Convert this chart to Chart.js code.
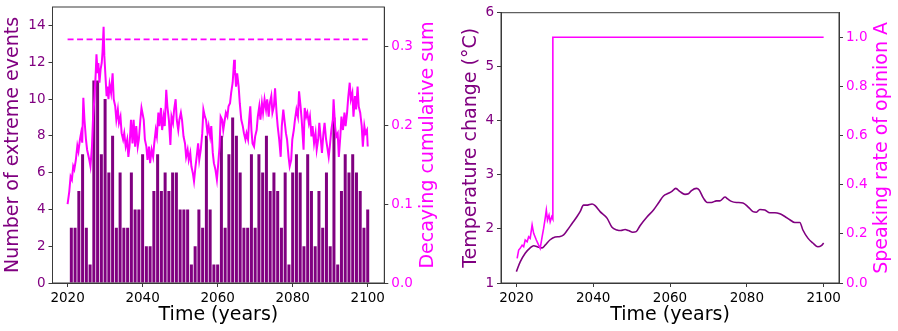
<!DOCTYPE html>
<html>
<head>
<meta charset="utf-8">
<script src="https://cdn.jsdelivr.net/npm/chart.js@4.4.1/dist/chart.umd.min.js"></script>
<style>
  body { margin: 0; background: #fff; }
  canvas { position: absolute; top: 0; }
</style>
</head>
<body>
<canvas id="events" width="449" height="331" style="left:0"></canvas>
<canvas id="temp" width="449" height="331" style="left:449px"></canvas>
<script>
// yearly counts of extreme events, 2021..2100
const years = Array.from({ length: 80 }, (_, i) => 2021 + i);
const extremeEvents = [
  3, 3, 5, 7, 3, 1, 11, 11, 7, 10, 6, 8, 3, 6, 3, 3, 6, 4, 4, 7,
  2, 2, 5, 7, 5, 6, 5, 6, 6, 4, 4, 4, 1, 2, 4, 3, 8, 4, 1, 1,
  8, 3, 7, 9, 8, 6, 3, 3, 7, 3, 7, 6, 8, 5, 6, 5, 3, 6, 1, 6,
  7, 6, 2, 7, 5, 2, 5, 3, 6, 2, 9, 1, 5, 7, 6, 7, 6, 5, 3, 4,
];

// decaying cumulative sum
const sumYears = [
  2020.0, 2020.45, 2020.8, 2021.15, 2021.5, 2021.8, 2022.2, 2022.6, 2022.9, 2023.3,
  2023.6, 2023.9, 2024.2, 2024.5, 2024.9, 2025.2, 2025.8, 2026.1, 2026.5, 2026.8,
  2027.2, 2027.5, 2027.7, 2028.0, 2028.2, 2028.5, 2028.8, 2029.1, 2029.3, 2029.6,
  2029.8, 2030.1, 2030.4, 2030.6, 2030.9, 2031.2, 2031.6, 2032.0, 2032.3, 2032.7,
  2033.0, 2033.4, 2033.7, 2034.1, 2034.4, 2034.8, 2035.1, 2035.5, 2035.9, 2036.2,
  2036.5, 2036.9, 2037.3, 2037.6, 2038.0, 2038.3, 2038.7, 2039.0, 2039.4, 2039.7,
  2040.3, 2040.6, 2041.0, 2041.3, 2041.7, 2042.0, 2042.4, 2042.8, 2043.1, 2043.5,
  2043.8, 2044.2, 2044.5, 2044.9, 2045.2, 2045.6, 2045.9, 2046.3, 2046.6, 2047.0,
  2047.4, 2047.7, 2048.1, 2048.4, 2048.8, 2049.1, 2049.5, 2049.8, 2050.2, 2050.5,
  2050.9, 2051.3, 2051.6, 2052.0, 2052.3, 2052.7, 2053.0, 2053.4, 2053.7, 2054.1,
  2054.4, 2054.8, 2055.1, 2055.5, 2055.9, 2056.2, 2056.6, 2056.9, 2057.3, 2057.6,
  2058.0, 2058.3, 2058.7, 2059.0, 2059.4, 2059.8, 2060.1, 2060.5, 2060.8, 2061.2,
  2061.5, 2061.9, 2062.2, 2062.6, 2062.9, 2063.3, 2063.6, 2064.0, 2064.4, 2064.6,
  2064.9, 2065.2, 2065.6, 2065.9, 2066.3, 2066.7, 2067.0, 2067.4, 2067.7, 2068.1,
  2068.4, 2068.7, 2069.0, 2069.3, 2069.7, 2070.0, 2070.4, 2070.7, 2071.1, 2071.4,
  2071.8, 2072.1, 2072.5, 2072.9, 2073.2, 2073.6, 2073.9, 2074.3, 2074.6, 2075.0,
  2075.3, 2075.7, 2076.0, 2076.4, 2076.8, 2077.1, 2077.5, 2077.8, 2078.2, 2078.5,
  2078.9, 2079.2, 2079.6, 2079.9, 2080.3, 2080.6, 2081.0, 2081.4, 2081.7, 2082.1,
  2082.4, 2082.9, 2083.2, 2083.6, 2083.9, 2084.3, 2084.6, 2085.0, 2085.3, 2085.7,
  2086.1, 2086.4, 2086.8, 2087.1, 2087.5, 2087.8, 2088.2, 2088.5, 2088.9, 2089.2,
  2089.6, 2089.9, 2090.3, 2090.7, 2090.9, 2091.3, 2091.6, 2092.0, 2092.3, 2092.7,
  2093.0, 2093.4, 2093.8, 2094.1, 2094.5, 2094.8, 2095.2, 2095.5, 2095.9, 2096.2,
  2096.6, 2096.9, 2097.3, 2097.6, 2098.0, 2098.4, 2098.7, 2099.1, 2099.4, 2099.8,
  2100.0,
];
const sumValues = [
  0.100, 0.116, 0.135, 0.131, 0.148, 0.144, 0.156, 0.174, 0.167, 0.182,
  0.190, 0.178, 0.235, 0.207, 0.182, 0.169, 0.156, 0.148, 0.173, 0.211,
  0.237, 0.266, 0.290, 0.266, 0.279, 0.254, 0.271, 0.279, 0.292, 0.325,
  0.288, 0.262, 0.237, 0.249, 0.233, 0.252, 0.241, 0.266, 0.233, 0.224,
  0.207, 0.220, 0.203, 0.211, 0.190, 0.182, 0.190, 0.173, 0.182, 0.160,
  0.173, 0.207, 0.177, 0.207, 0.173, 0.199, 0.173, 0.182, 0.207, 0.222,
  0.207, 0.182, 0.173, 0.156, 0.173, 0.152, 0.169, 0.160, 0.177, 0.194,
  0.186, 0.216, 0.199, 0.222, 0.194, 0.211, 0.199, 0.245, 0.224, 0.207,
  0.175, 0.211, 0.203, 0.220, 0.233, 0.207, 0.194, 0.207, 0.216, 0.207,
  0.186, 0.177, 0.160, 0.169, 0.156, 0.165, 0.148, 0.139, 0.129, 0.148,
  0.160, 0.177, 0.156, 0.169, 0.190, 0.220, 0.211, 0.207, 0.190, 0.199,
  0.186, 0.199, 0.165, 0.152, 0.144, 0.131, 0.148, 0.173, 0.211, 0.207,
  0.194, 0.207, 0.216, 0.211, 0.224, 0.228, 0.241, 0.254, 0.283, 0.271,
  0.249, 0.266, 0.249, 0.228, 0.207, 0.199, 0.190, 0.182, 0.190, 0.182,
  0.207, 0.224, 0.194, 0.177, 0.173, 0.186, 0.194, 0.211, 0.224, 0.207,
  0.228, 0.216, 0.233, 0.220, 0.233, 0.211, 0.228, 0.237, 0.216, 0.224,
  0.247, 0.216, 0.199, 0.182, 0.160, 0.199, 0.220, 0.207, 0.190, 0.182,
  0.160, 0.148, 0.156, 0.182, 0.194, 0.207, 0.220, 0.211, 0.243, 0.224,
  0.207, 0.169, 0.222, 0.211, 0.216, 0.203, 0.211, 0.186, 0.199, 0.177,
  0.190, 0.169, 0.182, 0.203, 0.182, 0.165, 0.190, 0.203, 0.182, 0.173,
  0.160, 0.173, 0.194, 0.207, 0.233, 0.199, 0.186, 0.190, 0.160, 0.186,
  0.211, 0.194, 0.216, 0.199, 0.216, 0.235, 0.254, 0.233, 0.241, 0.211,
  0.237, 0.220, 0.249, 0.224, 0.216, 0.199, 0.173, 0.199, 0.190, 0.194,
  0.173,
];
const thresholdYears = [2020, 2100];
const thresholdValues = [0.309, 0.309];

// temperature change (°C)
const tempYears = [
  2020.0, 2021.0, 2022.3, 2023.6, 2024.5, 2025.8, 2026.7, 2027.5, 2028.8, 2030.1,
  2031.4, 2032.3, 2033.2, 2034.5, 2035.8, 2036.6, 2037.5, 2038.5, 2039.7, 2040.5,
  2041.8, 2043.6, 2044.9, 2046.2, 2047.2, 2048.3, 2049.2, 2050.3, 2051.2, 2052.2,
  2054.0, 2055.7, 2057.0, 2058.3, 2059.6, 2060.4, 2061.5, 2062.6, 2063.9, 2064.8,
  2065.6, 2066.9, 2067.6, 2068.7, 2069.7, 2070.8, 2072.1, 2073.0, 2074.3, 2075.1,
  2076.0, 2077.3, 2079.0, 2080.3, 2081.6, 2082.5, 2083.4, 2084.7, 2086.0, 2087.3,
  2088.6, 2089.9, 2091.2, 2092.5, 2093.8, 2094.6, 2095.9, 2097.2, 2098.5, 2099.4,
  2100.0,
];
const tempValues = [
  1.21, 1.39, 1.55, 1.65, 1.69, 1.66, 1.65, 1.70, 1.80, 1.85,
  1.86, 1.89, 1.97, 2.10, 2.23, 2.32, 2.44, 2.44, 2.46, 2.43,
  2.32, 2.20, 2.03, 1.98, 1.97, 1.99, 1.97, 1.94, 1.95, 2.06,
  2.22, 2.35, 2.48, 2.61, 2.66, 2.69, 2.75, 2.69, 2.64, 2.65,
  2.71, 2.75, 2.72, 2.57, 2.49, 2.49, 2.52, 2.52, 2.59, 2.55,
  2.51, 2.49, 2.48, 2.41, 2.32, 2.31, 2.36, 2.35, 2.30, 2.30,
  2.28, 2.23, 2.17, 2.12, 2.12, 1.98, 1.83, 1.74, 1.67, 1.69,
  1.74,
];

// speaking rate of opinion A
const rateYears = [
  2020.2, 2020.6, 2021.0, 2021.5, 2021.9, 2022.3, 2022.8, 2023.2, 2023.6, 2024.1,
  2024.5, 2025.2, 2025.8, 2026.2, 2026.7, 2027.1, 2027.5, 2027.8, 2028.1, 2028.5,
  2028.8, 2029.2, 2029.5, 2029.5, 2100.0,
];
const rateValues = [
  0.100, 0.134, 0.141, 0.154, 0.148, 0.175, 0.168, 0.188, 0.182, 0.236,
  0.202, 0.175, 0.154, 0.141, 0.188, 0.222, 0.263, 0.297, 0.256, 0.276,
  0.249, 0.270, 0.260, 1.0, 1.0,
];

// tick labels
const xTicks = [2020, 2040, 2060, 2080, 2100];
const eventTicks = [0, 2, 4, 6, 8, 10, 12, 14];
const sumTicks = [0, 0.1, 0.2, 0.3];
const tempTicks = [1, 2, 3, 4, 5, 6];
const rateTicks = [0, 0.2, 0.4, 0.6, 0.8, 1.0];

const PURPLE = '#800080';
const MAGENTA = '#ff00ff';
const AXIS = '#3a3a3a';
Chart.defaults.font.family = "'DejaVu Sans', sans-serif";

const zip = (xs, ys) => xs.map((x, i) => ({ x, y: ys[i] }));

// matplotlib-like box around the plot area
const frame = {
  id: 'frame',
  afterDatasetsDraw(chart) {
    const { ctx, chartArea: a } = chart;
    ctx.save();
    ctx.strokeStyle = AXIS;
    ctx.lineWidth = 1;
    ctx.strokeRect(a.left, a.top, a.right - a.left, a.bottom - a.top);
    ctx.restore();
  },
};

// right-hand axis title, reading bottom to top like matplotlib
const sideTitle = {
  id: 'sideTitle',
  afterDraw(chart, args, opts) {
    const { ctx, chartArea: a } = chart;
    ctx.save();
    ctx.translate(opts.x, (a.top + a.bottom) / 2);
    ctx.rotate(-Math.PI / 2);
    ctx.font = "19px 'DejaVu Sans', sans-serif";
    ctx.fillStyle = opts.color;
    ctx.textAlign = 'center';
    ctx.textBaseline = 'middle';
    ctx.fillText(opts.text, 0, 0);
    ctx.restore();
  },
};

function fixSize(size, vertical) {
  return scale => {
    if (vertical) scale.width = size;
    else scale.height = size;
    scale.paddingTop = 0;
    scale.paddingBottom = 0;
    scale.paddingLeft = 0;
    scale.paddingRight = 0;
  };
}
const useTicks = values => scale => { scale.ticks = values.map(v => ({ value: v })); };

function axis(opts) {
  return {
    type: 'linear',
    position: opts.position,
    min: opts.min,
    max: opts.max,
    offset: false,
    afterBuildTicks: useTicks(opts.ticks),
    afterFit: fixSize(opts.size, opts.position !== 'bottom'),
    grid: { drawOnChartArea: false, offset: false, tickLength: 4, tickColor: AXIS },
    border: { color: AXIS, width: 1 },
    ticks: {
      color: opts.color, font: { size: 13.5 }, padding: 3,
      autoSkip: false, maxRotation: 0, callback: opts.format,
    },
    title: {
      display: !!opts.title, text: opts.title || '', color: opts.color, font: { size: 19 },
      padding: { top: opts.pad || 0, bottom: opts.pad || 0 },
    },
  };
}

new Chart(document.getElementById('events').getContext('2d'), {
  type: 'bar',
  data: {
    datasets: [
      {
        type: 'line', data: zip(sumYears, sumValues), yAxisID: 'y2', order: 1,
        borderColor: MAGENTA, borderWidth: 2, pointRadius: 0, tension: 0,
      },
      {
        type: 'line', data: zip(thresholdYears, thresholdValues), yAxisID: 'y2', order: 1,
        borderColor: MAGENTA, borderWidth: 1.6, borderDash: [6, 3.5], pointRadius: 0,
      },
      {
        type: 'bar', data: zip(years, extremeEvents), yAxisID: 'y', order: 2,
        backgroundColor: PURPLE, barPercentage: 0.8, categoryPercentage: 1,
      },
    ],
  },
  options: {
    responsive: false,
    animation: false,
    layout: { padding: { top: 7, left: 0, right: 0, bottom: 0 } },
    plugins: {
      legend: { display: false },
      tooltip: { enabled: false },
      sideTitle: { text: 'Decaying cumulative sum', color: MAGENTA, x: 428 },
    },
    scales: {
      x: axis({ position: 'bottom', min: 2015.98, max: 2104.42, ticks: xTicks, size: 48,
        color: '#000', title: 'Time (years)', pad: 4.6, format: v => String(v) }),
      y: axis({ position: 'left', min: 0, max: 15, ticks: eventTicks, size: 52.5,
        color: PURPLE, title: 'Number of extreme events', pad: 1.8, format: v => String(v) }),
      y2: axis({ position: 'right', min: 0, max: 0.35, ticks: sumTicks, size: 64.7,
        color: MAGENTA, format: v => v.toFixed(1) }),
    },
  },
  plugins: [frame, sideTitle],
});

new Chart(document.getElementById('temp').getContext('2d'), {
  type: 'line',
  data: {
    datasets: [
      {
        data: zip(rateYears, rateValues), yAxisID: 'y2',
        borderColor: MAGENTA, borderWidth: 1.6, pointRadius: 0, tension: 0,
      },
      {
        data: zip(tempYears, tempValues), yAxisID: 'y',
        borderColor: PURPLE, borderWidth: 1.6, pointRadius: 0, cubicInterpolationMode: 'monotone',
      },
    ],
  },
  options: {
    responsive: false,
    animation: false,
    layout: { padding: { top: 12.7, left: 0, right: 0, bottom: 0 } },
    plugins: {
      legend: { display: false },
      tooltip: { enabled: false },
      sideTitle: { text: 'Speaking rate of opinion A', color: MAGENTA, x: 433 },
    },
    scales: {
      x: axis({ position: 'bottom', min: 2016, max: 2104, ticks: xTicks, size: 48,
        color: '#000', title: 'Time (years)', pad: 4.6, format: v => String(v) }),
      y: axis({ position: 'left', min: 1, max: 6, ticks: tempTicks, size: 52,
        color: PURPLE, title: 'Temperature change (°C)', pad: 11, format: v => String(v) }),
      y2: axis({ position: 'right', min: 0, max: 1.1, ticks: rateTicks, size: 59,
        color: MAGENTA, format: v => v.toFixed(1) }),
    },
  },
  plugins: [frame, sideTitle],
});
</script>
</body>
</html>
